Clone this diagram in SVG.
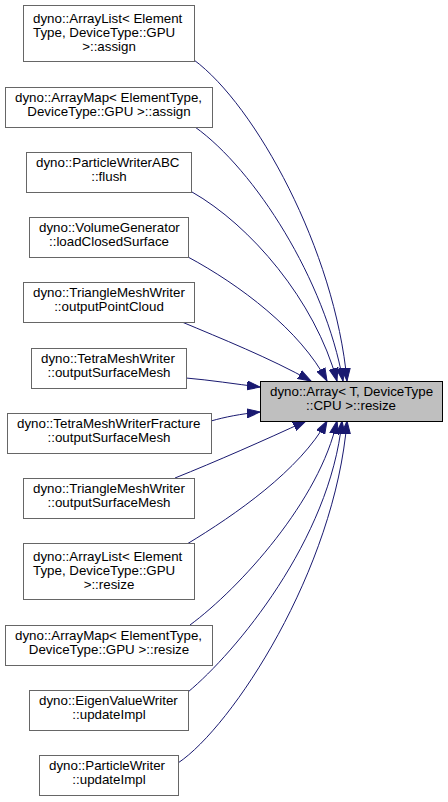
<svg xmlns="http://www.w3.org/2000/svg" width="448" height="802" viewBox="0 0 448 802">
<style>
.n rect{fill:#ffffff;stroke:#666666;stroke-width:1}
.t rect{fill:#bfbfbf;stroke:#000000;stroke-width:1}
text{font-family:"Liberation Sans",Arial,Helvetica,sans-serif;font-size:13.33px;fill:#000000}
.m{text-anchor:middle}
.e path{fill:none;stroke:#191970;stroke-width:1;marker-end:url(#arr)}
</style>
<defs>
<marker id="arr" markerUnits="userSpaceOnUse" markerWidth="14" markerHeight="10" refX="13" refY="5" orient="auto">
<path d="M0,0.5 L13,5 L0,9.5 z" fill="#191970" stroke="#191970" stroke-width="1"/>
</marker>
</defs>
<rect width="448" height="802" fill="#ffffff"/>
<g class="e" id="edges">
<path d="M194,60 C255,105 335,250 347,381"/>
<path d="M195,127 C255,170 325,280 343,381"/>
<path d="M192,192 C250,225 315,300 337,381"/>
<path d="M188,257 C240,285 300,330 327,381"/>
<path d="M182,322 C220,338 270,358 311,381"/>
<path d="M186,378 C210,380 235,384 260,387"/>
<path d="M211,421 C225,417 240,414 260,412"/>
<path d="M175,478 C215,462 265,440 306,421"/>
<path d="M187,544 C235,515 300,470 327,421"/>
<path d="M190,625 C240,588 320,500 337,421"/>
<path d="M188,692 C235,653 330,540 342,421"/>
<path d="M178,763 C232,727 335,570 347,421"/>
</g>
<g class="t" id="target">
<rect x="260.5" y="381.5" width="182" height="40"/>
<text x="270" y="396">dyno::Array&lt; T, DeviceType</text>
<text class="m" x="351" y="410">::CPU &gt;::resize</text>
</g>
<g class="n" id="n1">
<rect x="23.5" y="5.5" width="171" height="56"/>
<text x="33" y="22.5">dyno::ArrayList&lt; Element</text>
<text x="33" y="36.5">Type, DeviceType::GPU</text>
<text class="m" x="109" y="50.5">&gt;::assign</text>
</g>
<g class="n" id="n2">
<rect x="5.5" y="87.5" width="207" height="40"/>
<text x="15" y="102">dyno::ArrayMap&lt; ElementType,</text>
<text class="m" x="109" y="116">DeviceType::GPU &gt;::assign</text>
</g>
<g class="n" id="n3">
<rect x="26.5" y="152.5" width="165" height="40"/>
<text x="36" y="167">dyno::ParticleWriterABC</text>
<text class="m" x="109" y="181">::flush</text>
</g>
<g class="n" id="n4">
<rect x="29.5" y="217.5" width="159" height="40"/>
<text x="39" y="232">dyno::VolumeGenerator</text>
<text class="m" x="109" y="246">::loadClosedSurface</text>
</g>
<g class="n" id="n5">
<rect x="23.5" y="282.5" width="171" height="40"/>
<text x="33" y="297">dyno::TriangleMeshWriter</text>
<text class="m" x="109" y="311">::outputPointCloud</text>
</g>
<g class="n" id="n6">
<rect x="31.5" y="348.5" width="155" height="40"/>
<text x="41" y="363">dyno::TetraMeshWriter</text>
<text class="m" x="109" y="377">::outputSurfaceMesh</text>
</g>
<g class="n" id="n7">
<rect x="7.5" y="413.5" width="204" height="40"/>
<text x="17" y="428">dyno::TetraMeshWriterFracture</text>
<text class="m" x="109" y="442">::outputSurfaceMesh</text>
</g>
<g class="n" id="n8">
<rect x="23.5" y="478.5" width="171" height="40"/>
<text x="33" y="493">dyno::TriangleMeshWriter</text>
<text class="m" x="109" y="507">::outputSurfaceMesh</text>
</g>
<g class="n" id="n9">
<rect x="23.5" y="543.5" width="171" height="56"/>
<text x="33" y="561">dyno::ArrayList&lt; Element</text>
<text x="33" y="575">Type, DeviceType::GPU</text>
<text class="m" x="109" y="589">&gt;::resize</text>
</g>
<g class="n" id="n10">
<rect x="5.5" y="625.5" width="207" height="40"/>
<text x="15" y="640">dyno::ArrayMap&lt; ElementType,</text>
<text class="m" x="109" y="654">DeviceType::GPU &gt;::resize</text>
</g>
<g class="n" id="n11">
<rect x="29.5" y="690.5" width="159" height="40"/>
<text x="39" y="705">dyno::EigenValueWriter</text>
<text class="m" x="109" y="719">::updateImpl</text>
</g>
<g class="n" id="n12">
<rect x="39.5" y="755.5" width="139" height="40"/>
<text x="49" y="770">dyno::ParticleWriter</text>
<text class="m" x="109" y="784">::updateImpl</text>
</g>
</svg>
